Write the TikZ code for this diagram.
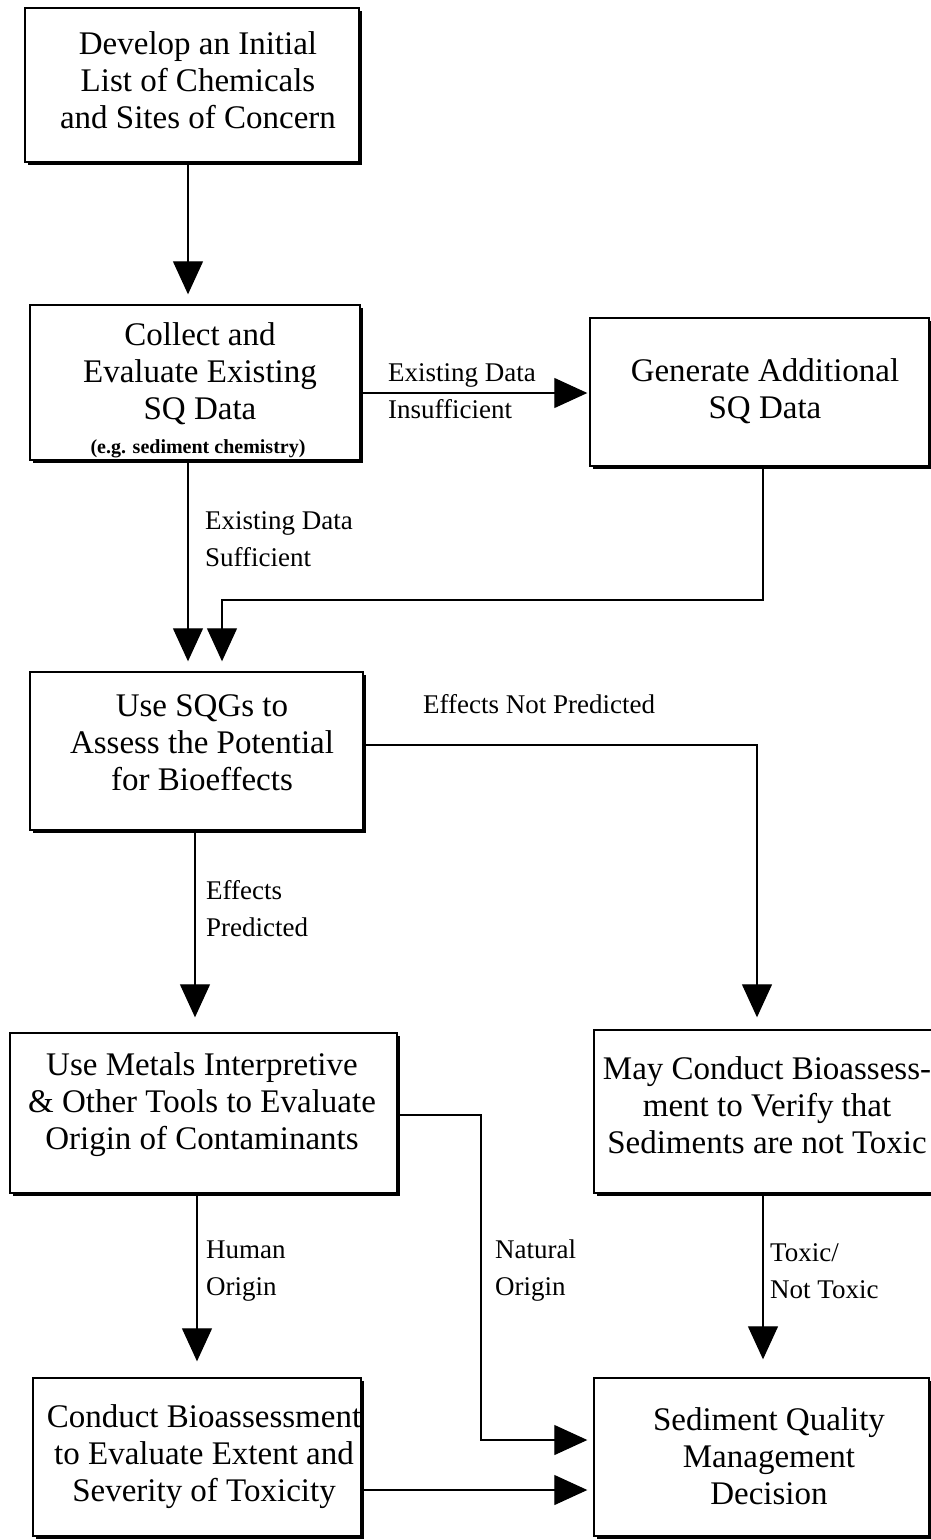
\documentclass[tikz,border=0pt]{standalone}
\usepackage{fontspec}
\setmainfont{Liberation Serif}
\usetikzlibrary{arrows.meta,shadows}
\begin{document}
\begin{tikzpicture}[x=1pt,y=-1pt,
  bx/.style={draw, fill=white, line width=1.4pt, inner sep=0pt,
    drop shadow={shadow xshift=3pt,shadow yshift=-3pt,fill=black,opacity=1}},
  bt/.style={align=center, inner sep=0pt, font=\fontsize{33}{37}\selectfont},
  lb/.style={align=left, anchor=west, inner sep=0pt, font=\fontsize{27}{37}\selectfont},
  arr/.style={line width=1.2pt, -{Triangle[length=33pt,width=30pt]}},
  ln/.style={line width=1.2pt}]
\useasboundingbox (0,0) rectangle (931,1540);
\fill[white] (0,0) rectangle (931,1540);

% boxes
\node[bx, minimum width=334pt, minimum height=154pt] (b1) at (192,85) {};
\node[bx, minimum width=330pt, minimum height=155pt] (b2) at (195,382.5) {};
\node[bx, minimum width=339pt, minimum height=148pt] (b3) at (759.5,392) {};
\node[bx, minimum width=333pt, minimum height=158pt] (b4) at (196.5,751) {};
\node[bx, minimum width=387pt, minimum height=160pt] (b5) at (203.5,1113) {};
\node[bx, minimum width=351pt, minimum height=163pt] (b6) at (769.5,1111.5) {};
\node[bx, minimum width=328pt, minimum height=158pt] (b7) at (197,1457) {};
\node[bx, minimum width=335pt, minimum height=158pt] (b8) at (761.5,1457) {};

% box texts
\node[bt] (t1) at (198,80) {Develop an Initial\\List of Chemicals\\and Sites of Concern};
\node[bt] (t2) at (200,374) {Collect and\\Evaluate Existing\\SQ Data};
\node[inner sep=0pt, font=\fontsize{20}{24}\selectfont\bfseries] (t2s) at (198,449) {(e.g. sediment chemistry)};
\node[bt] (t3) at (765,391) {Generate Additional\\SQ Data};
\node[bt] (t4) at (202,743) {Use SQGs to\\Assess the Potential\\for Bioeffects};
\node[bt] (t5) at (202,1105) {Use Metals Interpretive\\\& Other Tools to Evaluate\\Origin of Contaminants};
\node[bt] (t6) at (767,1105) {May Conduct Bioassess-\\ment to Verify that\\Sediments are not Toxic};
\node[bt] (t7) at (204,1457) {Conduct Bioassessment\\to Evaluate Extent and\\Severity of Toxicity};
\node[bt] (t8) at (769,1456) {Sediment Quality\\Management\\Decision};

% helper coordinates
\coordinate (xa) at (188,0);
\coordinate (xb) at (222,0);
\coordinate (xc) at (763,0);
\coordinate (xd) at (757,0);
\coordinate (xe) at (195,0);
\coordinate (xf) at (481,0);
\coordinate (xg) at (197,0);
\coordinate (ya) at (0,393);
\coordinate (yb) at (0,600);
\coordinate (yc) at (0,745);
\coordinate (yd) at (0,1115);
\coordinate (ye) at (0,1440);
\coordinate (yf) at (0,1490);

% connectors
\draw[arr, shorten >=10pt] (b1.south -| xa) -- (b2.north -| xa);
\draw[arr, shorten >=2pt] (b2.east |- ya) -- (b3.west |- ya);
\draw[arr, shorten >=10pt] (b2.south -| xa) -- (b4.north -| xa);
\draw[arr, shorten >=10pt] (b3.south -| xc) -- (xc |- yb) -| (b4.north -| xb);
\draw[arr, shorten >=12pt] (b4.east |- yc) -| (b6.north -| xd);
\draw[arr, shorten >=15pt] (b4.south -| xe) -- (b5.north -| xe);
\draw[arr, shorten >=6pt] (b5.east |- yd) -- (xf |- yd) |- (b8.west |- ye);
\draw[arr, shorten >=16pt] (b5.south -| xg) -- (b7.north -| xg);
\draw[arr, shorten >=18pt] (b6.south -| xc) -- (b8.north -| xc);
\draw[arr, shorten >=6pt] (b7.east |- yf) -- (b8.west |- yf);

% labels
\node[lb] (l1) at (388,391) {Existing Data\\Insufficient};
\node[lb] (l2) at (205,539) {Existing Data\\Sufficient};
\node[lb] (l3) at (423,704) {Effects Not Predicted};
\node[lb] (l4) at (206,909) {Effects\\Predicted};
\node[lb] (l5) at (206,1271) {Human\\Origin};
\node[lb] (l6) at (495,1271) {Natural\\Origin};
\node[lb] (l7) at (770,1271) {Toxic/\\Not Toxic};
\end{tikzpicture}
\end{document}
